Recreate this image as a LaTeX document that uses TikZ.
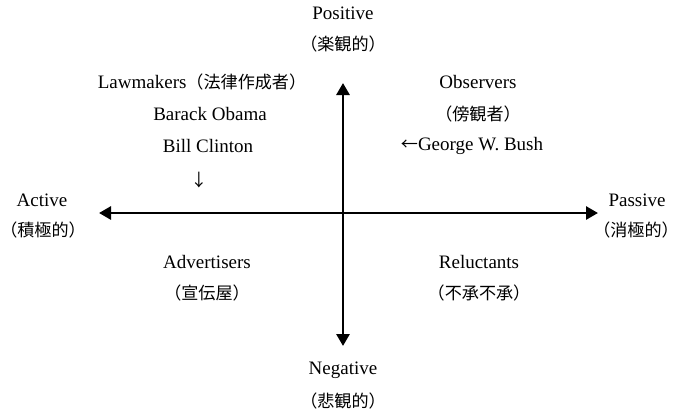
\documentclass[tikz,border=0pt]{standalone}
\usepackage{fontspec}
\setmainfont{Liberation Serif}
\newfontfamily\cjk[Scale=0.9]{Noto Sans CJK JP}
\usetikzlibrary{arrows.meta}
\begin{document}
\begin{tikzpicture}[x=1bp,y=-1bp,
  lab/.style={inner sep=0pt,anchor=center,font=\fontsize{19bp}{22bp}\selectfont},
  axis/.style={line width=2.8bp,-{Triangle[length=12bp,width=13bp]}}]
\useasboundingbox (0,0) rectangle (679,414);
\coordinate (o) at (343,213);
\coordinate (top) at (343,83);
\coordinate (bot) at (343,346);
\coordinate (left) at (99,213);
\coordinate (right) at (598,213);
\draw[axis] (o) -- (top);
\draw[axis] (o) -- (bot);
\draw[axis] (o) -- (left);
\draw[axis] (o) -- (right);
\node[lab] (pos) at (343,13) {Positive};
\node[lab] (posj) at (343,44) {\cjk（楽観的）};
\node[lab] (neg) at (343,370) {Negative};
\node[lab] (negj) at (343,401) {\cjk（悲観的）};
\node[lab] (act) at (42,200) {Active};
\node[lab] (actj) at (43,230) {\cjk（積極的）};
\node[lab] (pas) at (637,200) {Passive};
\node[lab] (pasj) at (636,230) {\cjk（消極的）};
\node[lab] (law) at (202,82) {Lawmakers{\cjk（法律作成者）}};
\node[lab] (obama) at (210,114) {Barack Obama};
\node[lab] (clinton) at (208,146) {Bill Clinton};
\node[lab] (darr) at (199,180) {\cjk ↓};
\node[lab] (obs) at (478,82) {Observers};
\node[lab] (obsj) at (478,114) {\cjk（傍観者）};
\node[lab] (bush) at (472,146) {{\cjk ←}George W. Bush};
\node[lab] (adv) at (207,262) {Advertisers};
\node[lab] (advj) at (207,293) {\cjk（宣伝屋）};
\node[lab] (rel) at (479,262) {Reluctants};
\node[lab] (relj) at (479,293) {\cjk（不承不承）};
\end{tikzpicture}
\end{document}
